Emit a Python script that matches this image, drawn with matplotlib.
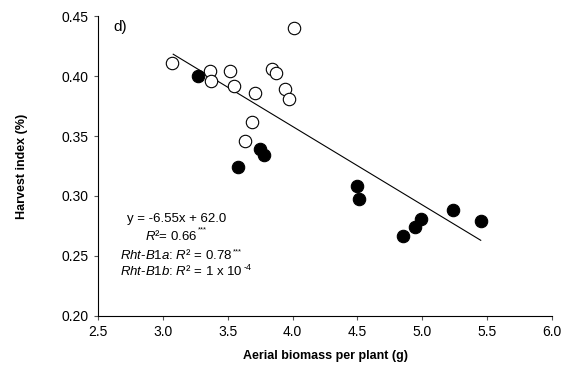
import matplotlib
matplotlib.use('Agg')
import matplotlib.pyplot as plt
import numpy as np

plt.rcParams['font.family'] = ['Liberation Sans', 'DejaVu Sans']
plt.rcParams['mathtext.fontset'] = 'custom'
plt.rcParams['mathtext.rm'] = 'Liberation Sans'
plt.rcParams['mathtext.it'] = 'Liberation Sans:italic'

# Rht-B1b (open circles)
open_x = [3.07, 3.36, 3.37, 3.52, 3.55, 3.71, 3.84, 3.87, 3.94, 3.97, 4.01, 3.69, 3.63]
open_y = [0.411, 0.404, 0.396, 0.404, 0.392, 0.386, 0.406, 0.403, 0.389, 0.381, 0.440, 0.362, 0.346]
# Rht-B1a (filled circles)
fill_x = [3.27, 3.75, 3.78, 3.58, 4.50, 4.51, 4.85, 4.94, 4.99, 5.24, 5.45]
fill_y = [0.400, 0.339, 0.334, 0.324, 0.308, 0.2975, 0.267, 0.274, 0.281, 0.288, 0.279]

# regression y = -6.55x + 62.0 (in %)
slope, intercept = -6.55, 62.0

fig = plt.figure(figsize=(5.83, 3.76), dpi=100)
ax = fig.add_axes([0.168, 0.16, 0.779, 0.797])

all_x = np.array(open_x + fill_x)
lx = np.array([all_x.min() + 0.01, all_x.max()])
ax.plot(lx, (slope * lx + intercept) / 100, color='black', lw=0.8, zorder=1)

ax.scatter(open_x, open_y, s=80, facecolors='white', edgecolors='black', linewidths=0.8, zorder=2)
ax.scatter(fill_x, fill_y, s=80, facecolors='black', edgecolors='black', linewidths=0.8, zorder=3)

ax.set_xlim(2.5, 6.0)
ax.set_ylim(0.20, 0.45)
ax.set_xticks(np.arange(2.5, 6.01, 0.5))
ax.set_yticks(np.arange(0.20, 0.451, 0.05))
ax.xaxis.set_major_formatter(matplotlib.ticker.FormatStrFormatter('%.1f'))
ax.yaxis.set_major_formatter(matplotlib.ticker.FormatStrFormatter('%.2f'))
ax.spines['top'].set_visible(False)
ax.spines['right'].set_visible(False)
ax.tick_params(direction='out', length=3, width=0.8, labelsize=10, color='#555555')

ax.set_xlabel('Aerial biomass per plant (g)', fontsize=9, fontweight='bold', labelpad=8)
ax.set_ylabel('Harvest index (%)', fontsize=9, fontweight='bold', labelpad=24)

ax.text(0.035, 0.965, 'd)', transform=ax.transAxes, fontsize=11, va='center')

tr = ax.transAxes
def px(x, y):
    # figure pixel -> axes fraction
    return ((x - 98) / 454, (316 - y) / 300)

fs = 9.5
x0, y0 = px(127, 219)
ax.text(x0, y0, 'y = -6.55x + 62.0', transform=tr, fontsize=fs, va='center')
x0, y0 = px(145, 236)
t = ax.text(x0, y0, r'$\mathit{R}$²= 0.66', transform=tr, fontsize=fs, va='center')
ax.annotate('***', xy=(1, 1), xycoords=t, xytext=(0.5, 1.5), textcoords='offset points',
            fontsize=5.5, va='top', ha='left')
x0, y0 = px(120, 255)
t = ax.text(x0, y0, r'$\mathit{Rht}$-$\mathit{B1a}$: $\mathit{R}$² = 0.78', transform=tr, fontsize=fs, va='center')
ax.annotate('***', xy=(1, 1), xycoords=t, xytext=(0.5, -0.5), textcoords='offset points',
            fontsize=5.5, va='top', ha='left')
x0, y0 = px(120, 271)
t = ax.text(x0, y0, r'$\mathit{Rht}$-$\mathit{B1b}$: $\mathit{R}$² = 1 x 10', transform=tr, fontsize=fs, va='center')
ax.annotate('-4', xy=(1, 1), xycoords=t, xytext=(0.5, 1.0), textcoords='offset points',
            fontsize=6.5, va='top', ha='left')

fig.savefig('out.png', dpi=100)
